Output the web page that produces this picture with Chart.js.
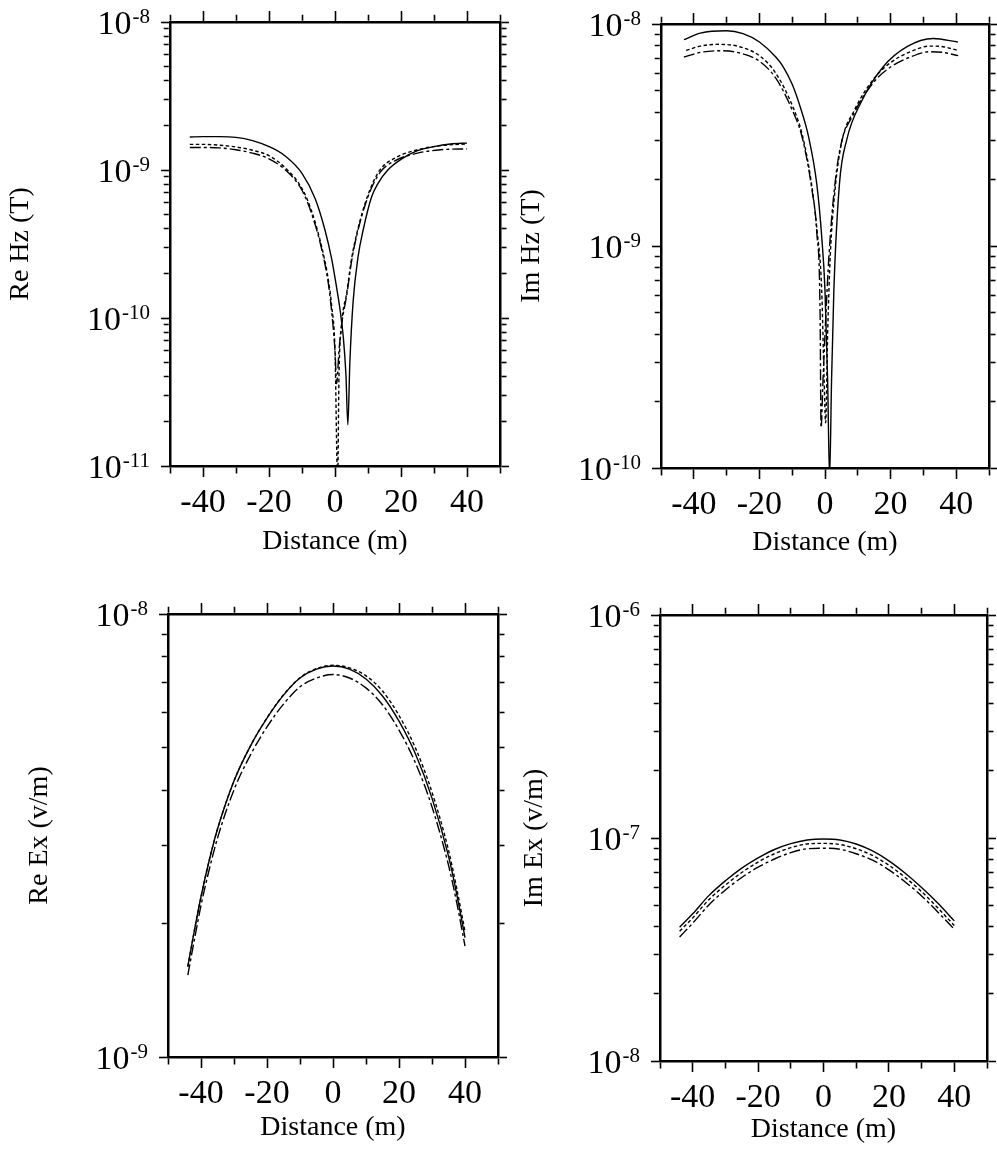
<!DOCTYPE html>
<html>
<head>
<meta charset="utf-8">
<script src="https://cdn.jsdelivr.net/npm/chart.js@4.4.1/dist/chart.umd.min.js"></script>
<style>
  body { margin: 0; background: #fff; }
  #wrap { position: relative; width: 997px; height: 1151px; overflow: hidden; }
  canvas { position: absolute; }
</style>
</head>
<body>
<div id="wrap">
  <canvas id="reHz" width="520" height="580" style="left:0;top:0"></canvas>
  <canvas id="imHz" width="497" height="580" style="left:500px;top:0"></canvas>
  <canvas id="reEx" width="520" height="566" style="left:0;top:585px"></canvas>
  <canvas id="imEx" width="497" height="566" style="left:500px;top:585px"></canvas>
</div>
<script>
// Re Hz (T) - three models, each with its own sampling around the null
const reHzSolidX = [-44, -40, -35, -30, -25, -20, -15, -10, -6, -3, -1, 0.5, 1.5, 2.5, 3.3, 3.9, 4.5, 5.5, 7, 8.5, 11, 13, 16, 20, 25, 30, 35, 40];
const reHzSolid = [1.67e-9, 1.68e-9, 1.68e-9, 1.66e-9, 1.58e-9, 1.44e-9, 1.24e-9, 9.5e-10, 6.4e-10, 3.9e-10, 2.5e-10, 1.6e-10, 1.15e-10, 7.5e-11, 4.2e-11, 1.9e-11, 5e-11, 1.3e-10, 2.6e-10, 3.9e-10, 6.5e-10, 8.1e-10, 1.0e-9, 1.18e-9, 1.35e-9, 1.44e-9, 1.5e-9, 1.52e-9];
const reHzShortX = [-44, -40, -35, -30, -25, -20, -15, -10, -7, -4, -2, -1, 0, 0.8, 1.2, 2, 3.6, 5, 6.7, 10, 13.6, 18, 25, 32, 40];
const reHzShort = [1.49e-9, 1.49e-9, 1.47e-9, 1.43e-9, 1.36e-9, 1.25e-9, 1.03e-9, 7.5e-10, 5.2e-10, 3.0e-10, 1.8e-10, 1.2e-10, 6e-11, 8e-12, 4e-11, 9e-11, 1.5e-10, 2.5e-10, 3.8e-10, 6.8e-10, 1e-9, 1.2e-9, 1.37e-9, 1.46e-9, 1.5e-9];
const reHzLongX = [-44, -40, -35, -30, -25, -20, -15, -10, -7, -4, -2, -1, 0, 0.5, 1.2, 2, 3.6, 5, 6.7, 10, 13.6, 18, 25, 32, 40];
const reHzLong = [1.42e-9, 1.42e-9, 1.41e-9, 1.37e-9, 1.3e-9, 1.19e-9, 1.0e-9, 7.3e-10, 5e-10, 2.9e-10, 1.7e-10, 1.1e-10, 6e-11, 3.6e-11, 6e-11, 9e-11, 1.45e-10, 2.4e-10, 3.7e-10, 6.6e-10, 9.6e-10, 1.15e-9, 1.3e-9, 1.37e-9, 1.39e-9];

// Im Hz (T)
const imHzSolidX = [-43, -38, -30, -25, -20, -15, -12.7, -10, -7.6, -5, -2.5, -1, 0, 0.8, 1.4, 2, 2.7, 4.4, 6.6, 11.2, 17.7, 25, 33, 40.5];
const imHzSolid = [8.5e-9, 9.1e-9, 9.33e-9, 9.05e-9, 8.3e-9, 7.1e-9, 6.4e-9, 5.35e-9, 4.25e-9, 3.1e-9, 1.9e-9, 1.1e-9, 6.3e-10, 2.5e-10, 9e-11, 2.5e-10, 6.3e-10, 1.9e-9, 3.0e-9, 4.5e-9, 6.4e-9, 7.9e-9, 8.6e-9, 8.3e-9];
const imHzShortX = [-42.3, -38, -32, -26, -20, -15, -9.7, -7, -4.1, -2.5, -1, -0.3, 0.2, 0.8, 1.6, 3, 5, 9, 15, 20, 26, 32, 36, 40.6];
const imHzShort = [7.6e-9, 7.95e-9, 8.1e-9, 7.9e-9, 7.2e-9, 6.0e-9, 4.2e-9, 3.2e-9, 1.9e-9, 1.2e-9, 6.3e-10, 2.6e-10, 1.6e-10, 4e-10, 9e-10, 1.75e-9, 2.9e-9, 4.1e-9, 5.7e-9, 6.7e-9, 7.5e-9, 7.95e-9, 7.9e-9, 7.6e-9];
const imHzLongX = [-43, -38, -32, -26, -20, -15, -10, -7, -4, -2.5, -1.5, -1.2, -0.6, 0.3, 1.2, 2.5, 4.5, 9, 15, 20, 26, 32, 36, 40.6];
const imHzLong = [7.1e-9, 7.45e-9, 7.58e-9, 7.4e-9, 6.8e-9, 5.7e-9, 4.1e-9, 3.1e-9, 1.8e-9, 1.15e-9, 5e-10, 1.52e-10, 2.5e-10, 5e-10, 9e-10, 1.6e-9, 2.7e-9, 4.0e-9, 5.5e-9, 6.4e-9, 7.1e-9, 7.5e-9, 7.45e-9, 7.2e-9];

// Re Ex (v/m)
const reExDistance = [-44, -42, -40, -37.5, -35, -30, -25, -20, -15, -10, -5, 0, 5, 10, 15, 20, 25, 30, 35, 37.5, 40];
const reExSolid = [1.6e-9, 1.93e-9, 2.3e-9, 2.78e-9, 3.27e-9, 4.2e-9, 5.04e-9, 5.82e-9, 6.56e-9, 7.17e-9, 7.51e-9, 7.63e-9, 7.51e-9, 7.13e-9, 6.53e-9, 5.73e-9, 4.83e-9, 3.84e-9, 2.84e-9, 2.33e-9, 1.86e-9];
const reExShort = [1.6e-9, 1.93e-9, 2.3e-9, 2.78e-9, 3.27e-9, 4.2e-9, 5.04e-9, 5.83e-9, 6.57e-9, 7.18e-9, 7.53e-9, 7.66e-9, 7.56e-9, 7.25e-9, 6.7e-9, 5.9e-9, 4.98e-9, 3.96e-9, 2.93e-9, 2.4e-9, 1.92e-9];
const reExLong = [1.53e-9, 1.84e-9, 2.2e-9, 2.65e-9, 3.12e-9, 4.01e-9, 4.81e-9, 5.56e-9, 6.26e-9, 6.85e-9, 7.17e-9, 7.3e-9, 7.17e-9, 6.81e-9, 6.24e-9, 5.47e-9, 4.61e-9, 3.67e-9, 2.71e-9, 2.23e-9, 1.78e-9];

// Im Ex (v/m)
const imExDistance = [-44, -40, -35, -30, -25, -20, -15, -10, -5, 0, 5, 10, 15, 20, 25, 30, 35, 40];
const imExSolid = [3.98e-8, 4.57e-8, 5.53e-8, 6.43e-8, 7.33e-8, 8.15e-8, 8.88e-8, 9.43e-8, 9.8e-8, 9.9e-8, 9.8e-8, 9.4e-8, 8.75e-8, 7.9e-8, 6.95e-8, 6.0e-8, 5.1e-8, 4.25e-8];
const imExShort = [3.82e-8, 4.38e-8, 5.3e-8, 6.15e-8, 7.0e-8, 7.8e-8, 8.5e-8, 9.05e-8, 9.4e-8, 9.46e-8, 9.35e-8, 8.95e-8, 8.35e-8, 7.55e-8, 6.65e-8, 5.75e-8, 4.85e-8, 4.05e-8];
const imExLong = [3.6e-8, 4.15e-8, 5.02e-8, 5.85e-8, 6.65e-8, 7.4e-8, 8.05e-8, 8.6e-8, 8.95e-8, 9.0e-8, 8.9e-8, 8.5e-8, 7.95e-8, 7.2e-8, 6.35e-8, 5.5e-8, 4.65e-8, 3.9e-8];

const xTickLabels = [-40, -20, 0, 20, 40];

const FONT = "'Liberation Serif', 'Times New Roman', serif";
const tickFont = { family: FONT, size: 34 };
const titleFont = { family: FONT, size: 28 };
const SHORT_DASH = [3.5, 2.5];
const LONG_DASH = [11, 3, 3, 3];

const X_MAJOR = 11, X_MINOR = 6, Y_MAJOR = 9, Y_MINOR = 5;
const Y_LABEL_PAD = 11;
const AXIS_W = 2.5;

function isDecade(v) {
    const l = Math.log10(v);
    return Math.abs(l - Math.round(l)) < 1e-6;
}

function isMajorX(v) {
    return xTickLabels.includes(v);
}

// 1..9 x 10^n tick values between two decades
function logTicks(minExp, maxExp) {
    const t = [];
    for (let e = minExp; e < maxExp; e++) {
        for (let s = 1; s < 10; s++) t.push({ value: s * Math.pow(10, e) });
    }
    t.push({ value: Math.pow(10, maxExp) });
    return t;
}

// minor ticks are shortened with a dash pattern
// outerFirst: the library draws top/left ticks from the outer end toward the axis
function tickDash(isMajor, major, minor, outerFirst) {
    return (ctx) => {
        if (!ctx.tick || isMajor(ctx.tick.value)) return [];
        if (outerFirst) return [0, major - AXIS_W / 2 - minor, minor, 1000];
        return [minor, 1000];
    };
}

function gridOpts(isMajor, major, minor, outerFirst) {
    return {
        drawOnChartArea: false,
        drawTicks: true,
        tickLength: major,
        tickColor: '#000',
        tickWidth: 1.6,
        tickBorderDash: tickDash(isMajor, major, minor, outerFirst)
    };
}

const border = { display: true, color: '#000', width: AXIS_W };

// decade labels "10" with a raised exponent, placed at the y scale's tick pixels
const powerLabels = {
    id: 'powerLabels',
    afterDraw(chart) {
        const s = chart.scales.y;
        const ctx = chart.ctx;
        const right = s.right - Y_MAJOR - Y_LABEL_PAD;
        ctx.save();
        ctx.fillStyle = '#000';
        ctx.textBaseline = 'alphabetic';
        ctx.textAlign = 'right';
        s.ticks.forEach(t => {
            if (!isDecade(t.value)) return;
            const y = s.getPixelForValue(t.value);
            const exp = String(Math.round(Math.log10(t.value)));
            ctx.font = '21px ' + FONT;
            const ew = ctx.measureText(exp).width;
            ctx.fillText(exp, right, y + 1);
            ctx.font = '34px ' + FONT;
            ctx.fillText('10', right - ew - 1, y + 11.5);
        });
        ctx.restore();
    }
};

function panelScales(p) {
    return {
        x: {
            type: 'linear', position: 'bottom', min: -50, max: 50,
            ticks: {
                stepSize: 10, autoSkip: false, maxRotation: 0, padding: 6,
                color: '#000', font: tickFont,
                callback: v => isMajorX(v) ? String(v) : ''
            },
            grid: gridOpts(isMajorX, X_MAJOR, X_MINOR, false),
            border: border,
            title: { display: true, text: 'Distance (m)', color: '#000', font: titleFont, padding: { top: 0, bottom: p.xTitlePad } },
            afterFit: s => { s.height = p.h - p.bottom; }
        },
        xTop: {
            type: 'linear', position: 'top', min: -50, max: 50,
            ticks: { stepSize: 10, display: false },
            grid: gridOpts(isMajorX, X_MAJOR, X_MINOR, true),
            border: border,
            afterFit: s => { s.height = p.top; }
        },
        y: {
            type: 'logarithmic', position: 'left', min: Math.pow(10, p.yMin), max: Math.pow(10, p.yMax),
            afterBuildTicks: s => { s.ticks = logTicks(p.yMin, p.yMax); },
            ticks: { autoSkip: false, padding: Y_LABEL_PAD, callback: () => '' },
            grid: gridOpts(isDecade, Y_MAJOR, Y_MINOR, true),
            border: border,
            title: { display: true, text: p.yTitle, color: '#000', font: titleFont, padding: { top: p.yTitlePad, bottom: 0 } },
            afterFit: s => { s.width = p.left; }
        },
        yRight: {
            type: 'logarithmic', position: 'right', min: Math.pow(10, p.yMin), max: Math.pow(10, p.yMax),
            afterBuildTicks: s => { s.ticks = logTicks(p.yMin, p.yMax); },
            ticks: { display: false },
            grid: gridOpts(isDecade, Y_MAJOR, Y_MINOR, false),
            border: border,
            afterFit: s => { s.width = p.w - p.right; }
        }
    };
}

function series(xs, ys, dash) {
    return {
        data: xs.map((x, i) => ({ x: x, y: ys[i] })),
        borderColor: '#000',
        borderWidth: 1.4,
        borderDash: dash,
        pointRadius: 0,
        fill: false,
        cubicInterpolationMode: 'monotone',
        xAxisID: 'x',
        yAxisID: 'y'
    };
}

function makePanel(id, p, datasets) {
    new Chart(document.getElementById(id), {
        type: 'line',
        data: { datasets: datasets },
        options: {
            responsive: false,
            animation: false,
            devicePixelRatio: 1,
            layout: { padding: 0 },
            plugins: { legend: { display: false }, tooltip: { enabled: false } },
            scales: panelScales(p)
        },
        plugins: [powerLabels]
    });
}

makePanel('reHz',
    { w: 520, h: 580, left: 170, right: 500, top: 22, bottom: 466, yMin: -11, yMax: -8, yTitle: 'Re Hz (T)', yTitlePad: 4, xTitlePad: 22 },
    [series(reHzSolidX, reHzSolid, []), series(reHzShortX, reHzShort, SHORT_DASH), series(reHzLongX, reHzLong, LONG_DASH)]);

makePanel('imHz',
    { w: 497, h: 580, left: 161, right: 489, top: 24, bottom: 468, yMin: -10, yMax: -8, yTitle: 'Im Hz (T)', yTitlePad: 15, xTitlePad: 21 },
    [series(imHzSolidX, imHzSolid, []), series(imHzShortX, imHzShort, SHORT_DASH), series(imHzLongX, imHzLong, LONG_DASH)]);

makePanel('reEx',
    { w: 520, h: 566, left: 168, right: 498, top: 29, bottom: 472, yMin: -9, yMax: -8, yTitle: 'Re Ex (v/m)', yTitlePad: 23, xTitlePad: 7 },
    [series(reExDistance, reExSolid, []), series(reExDistance, reExShort, SHORT_DASH), series(reExDistance, reExLong, LONG_DASH)]);

makePanel('imEx',
    { w: 497, h: 566, left: 160, right: 487, top: 30, bottom: 476, yMin: -8, yMax: -6, yTitle: 'Im Ex (v/m)', yTitlePad: 18, xTitlePad: 5 },
    [series(imExDistance, imExSolid, []), series(imExDistance, imExShort, SHORT_DASH), series(imExDistance, imExLong, LONG_DASH)]);
</script>
</body>
</html>
